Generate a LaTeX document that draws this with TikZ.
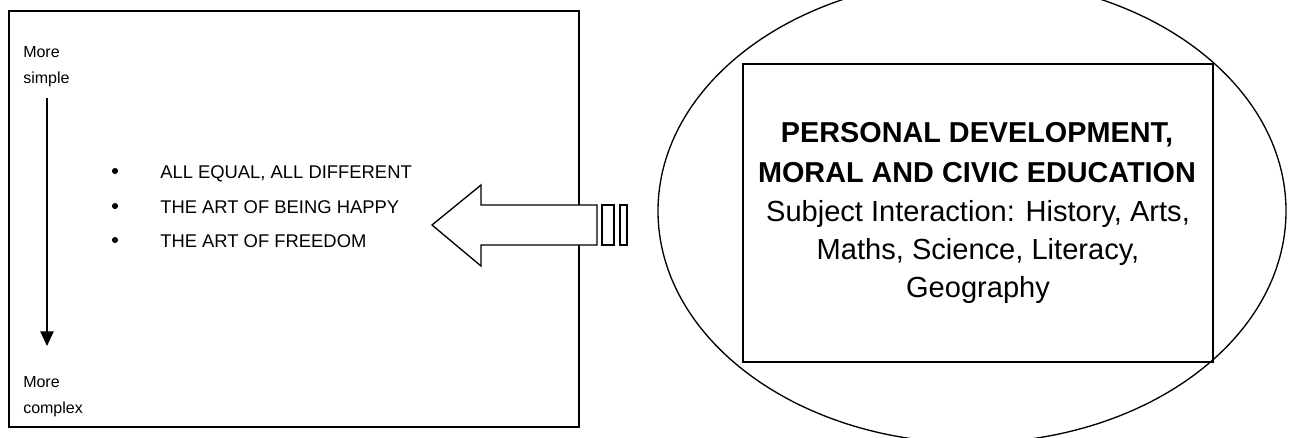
\documentclass[tikz,border=0pt]{standalone}
\usepackage{fontspec}
\setmainfont{Liberation Sans}
\usetikzlibrary{arrows.meta}
\tikzset{
  frame/.style={draw=black, line width=1.4pt},
  thin/.style={draw=black, line width=1pt},
  small/.style={font=\fontsize{12}{14}\selectfont, anchor=base west, inner sep=0pt},
  item/.style={font=\fontsize{13.8}{16}\selectfont, anchor=base west, inner sep=0pt},
  dot/.style={circle, fill=black, inner sep=0pt, minimum size=4.6pt},
  big/.style={font=\fontsize{21.8}{26}\selectfont, anchor=base, inner sep=0pt},
  bigb/.style={font=\fontsize{21.6}{26}\selectfont\bfseries, anchor=base, inner sep=0pt},
}
\begin{document}
\begin{tikzpicture}[x=0.75pt,y=-0.75pt]
\useasboundingbox (0,0) rectangle (1292,437);
\clip (0,0) rectangle (1292,437);
% left frame
\draw[frame] (9,11) rectangle (579,427);
\node[small] (m1) at (23,57) {More};
\node[small] (s1) at (23,83) {simple};
\node[small] (m2) at (23,387) {More};
\node[small] (c2) at (23,413) {complex};
\coordinate (vtop) at (47,98);
\coordinate (vbot) at (47,346);
\draw[thin, -{Triangle[width=10pt,length=11pt]}] (vtop) -- (vbot);
% bullets
\node[dot] (b1) at (115,171) {};
\node[dot] (b2) at (115,206) {};
\node[dot] (b3) at (115,240) {};
\node[item] (i1) at (160,178) {ALL EQUAL, ALL DIFFERENT};
\node[item] (i2) at (160,213) {THE ART OF BEING HAPPY};
\node[item] (i3) at (160,247) {THE ART OF FREEDOM};
% block arrow
\draw[thin, fill=white, line join=miter] (432,225) -- (481,185) -- (481,205) -- (597,205) -- (597,245) -- (481,245) -- (481,266) -- cycle;
\draw[thin, fill=white] (602,205) rectangle (614,245);
\draw[thin, fill=white] (620,205) rectangle (627,245);
% ellipse
\draw[thin] (972,211) ellipse [x radius=235.5pt, y radius=174pt];
% inner box
\draw[frame] (743,64) rectangle (1213,362);
\node[bigb] (t1) at (977,142) {PERSONAL DEVELOPMENT,};
\node[bigb] (t2) at (977,182) {MORAL AND CIVIC EDUCATION};
\node[big] (t3) at (978,221) {Subject Interaction: History, Arts,};
\node[big] (t4) at (978,259) {Maths, Science, Literacy,};
\node[big] (t5) at (978,297) {Geography};
\end{tikzpicture}
\end{document}
